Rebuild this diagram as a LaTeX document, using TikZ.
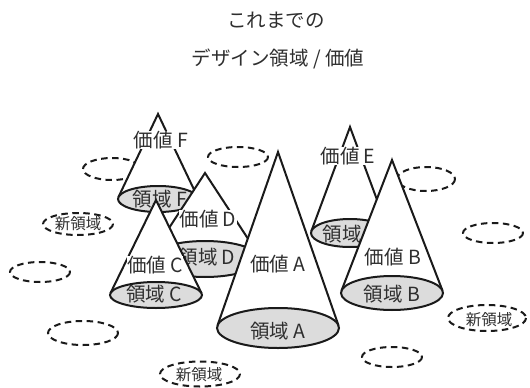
\documentclass[tikz,border=0pt]{standalone}
\usepackage{fontspec}
\setmainfont{Noto Sans CJK JP}
\definecolor{txt}{HTML}{2E2E2E}
\definecolor{basegray}{HTML}{DCDCDC}
\definecolor{ink}{HTML}{1A1A1A}
\tikzset{
  coneline/.style={draw=ink, line width=2pt, line join=miter},
  newarea/.style={draw=ink, line width=2pt, dash pattern=on 6.5pt off 4.5pt},
  valuelbl/.style={font=\fontsize{19.5}{19.5}\selectfont, text=txt, fill=white, inner sep=0.5pt},
  arealbl/.style={font=\fontsize{19.5}{19.5}\selectfont, text=txt, inner sep=0pt},
  newlbl/.style={font=\fontsize{15.5}{16}\selectfont, text=txt, inner sep=0pt},
  titlelbl/.style={font=\fontsize{19.5}{19.5}\selectfont, text=txt, inner sep=0pt},
}
% #1 centre x, #2 apex y, #3 centre y, #4 x radius, #5 y radius
\newcommand{\mycone}[5]{%
  \pgfmathsetmacro{\cH}{(#3)-(#2)}%
  \pgfmathsetmacro{\cTy}{(#3)-(#5)*(#5)/\cH}%
  \pgfmathsetmacro{\cTx}{(#4)*sqrt(1-((#5)/\cH)^2)}%
  \fill[white] ({#1-\cTx},\cTy) -- (#1,#2) -- ({#1+\cTx},\cTy) -- cycle;
  \draw[coneline] ({#1-\cTx},\cTy) -- (#1,#2) -- ({#1+\cTx},\cTy);
  \draw[coneline, fill=basegray] (#1,#3) ellipse [x radius=#4, y radius=#5];
}
\begin{document}
\begin{tikzpicture}[x=1pt, y=-1pt]
\useasboundingbox[fill=white] (0,0) rectangle (530,388);

% title
\node[titlelbl] (t1) at (276,20) {これまでの};
\node[titlelbl] (t2) at (278,59) {デザイン領域 / 価値};

% new (dashed) areas
\draw[newarea] (112,169) ellipse [x radius=29, y radius=11];
\draw[newarea] (238,157) ellipse [x radius=30, y radius=10];
\draw[newarea] (78,224) ellipse [x radius=35, y radius=11];
\draw[newarea] (426,179) ellipse [x radius=29, y radius=12];
\draw[newarea] (493,233) ellipse [x radius=30, y radius=10];
\draw[newarea] (40,272) ellipse [x radius=30, y radius=10];
\draw[newarea] (83,333) ellipse [x radius=35, y radius=12];
\draw[newarea] (200,374) ellipse [x radius=40, y radius=12.5];
\draw[newarea] (487,318) ellipse [x radius=39, y radius=13];
\draw[newarea] (392,357) ellipse [x radius=30, y radius=10];
\node[newlbl] (n1) at (78,224) {新領域};
\node[newlbl] (n2) at (199,375) {新領域};
\node[newlbl] (n3) at (489,320) {新領域};

% cone F
\mycone{158}{114}{199}{40}{13}
\node[valuelbl] (vF) at (161,140) {価値 F};
\node[arealbl] (aF) at (160,199) {領域 F};

% cone E
\mycone{350}{127}{233}{39}{14}
\node[valuelbl] (vE) at (348,156) {価値 E};
\node[arealbl] (aE) at (342,234) {領域};

% cone D
\mycone{205}{173}{259}{55}{18}
\node[valuelbl] (vD) at (208,219) {価値 D};
\node[arealbl] (aD) at (207,257) {領域 D};

% cone C
\mycone{156}{200}{295}{46}{13}
\node[valuelbl] (vC) at (155,265) {価値 C};
\node[arealbl] (aC) at (154,294) {領域 C};

% cone A
\mycone{278}{152}{328}{61}{20}
\node[valuelbl] (vA) at (278,264) {価値 A};
\node[arealbl] (aA) at (278,331) {領域 A};

% cone B
\mycone{392}{160}{293}{51}{17}
\node[valuelbl] (vB) at (393,257) {価値 B};
\node[arealbl] (aB) at (392,294) {領域 B};
\end{tikzpicture}
\end{document}
